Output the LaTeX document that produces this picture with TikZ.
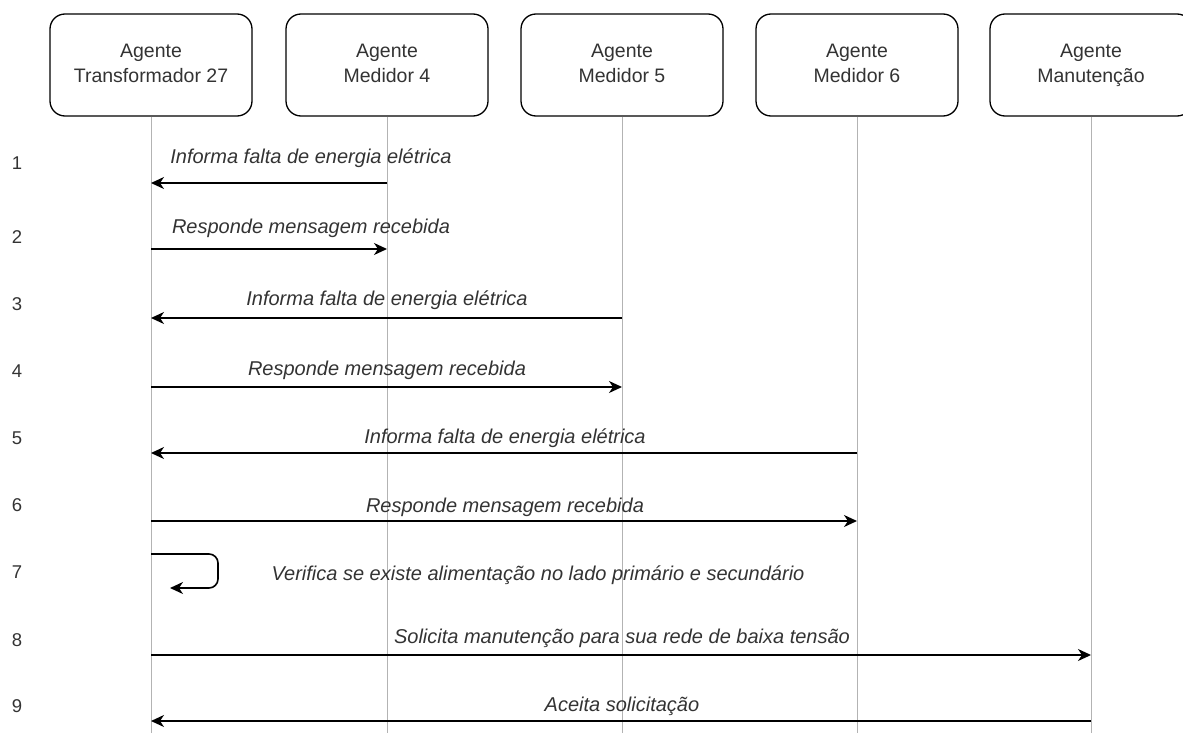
\documentclass[tikz,border=0pt]{standalone}
\usepackage{fontspec}
\setmainfont{Liberation Sans}
\usetikzlibrary{arrows.meta}
\definecolor{txt}{HTML}{333333}
\definecolor{life}{HTML}{B3B3B3}

\begin{document}
\begin{tikzpicture}[x=1pt,y=-1pt,
  agent/.style={draw=black, fill=white, line width=1.3pt, rounded corners=15pt,
    minimum width=202pt, minimum height=102pt, align=center, text=txt,
    font=\fontsize{19.5}{25}\selectfont, inner sep=0pt},
  lifeline/.style={draw=life, line width=1pt},
  msg/.style={draw=black, line width=1.6pt,
    -{Stealth[length=13pt,width=12pt,inset=4pt]}},
  msglabel/.style={anchor=base, text=txt, inner sep=0pt,
    font=\fontsize{20}{24}\selectfont\itshape},
  stepnum/.style={text=txt, inner sep=0pt, font=\fontsize{18.5}{22}\selectfont}
]
\useasboundingbox (0,0) rectangle (1183,733);

% agents
\node[agent] (t)  at (151,65)  {\strut Agente\\\strut Transformador 27};
\node[agent] (m4) at (387,65)  {\strut Agente\\\strut Medidor 4};
\node[agent] (m5) at (622,65)  {\strut Agente\\\strut Medidor 5};
\node[agent] (m6) at (857,65)  {\strut Agente\\\strut Medidor 6};
\node[agent] (ma) at (1091,65) {\strut Agente\\\strut Manutenção};

% lifeline ends
\coordinate (t-end)  at (151,733);
\coordinate (m4-end) at (387,733);
\coordinate (m5-end) at (622,733);
\coordinate (m6-end) at (857,733);
\coordinate (ma-end) at (1091,733);

\draw[lifeline] (t.south)  -- (t-end);
\draw[lifeline] (m4.south) -- (m4-end);
\draw[lifeline] (m5.south) -- (m5-end);
\draw[lifeline] (m6.south) -- (m6-end);
\draw[lifeline] (ma.south) -- (ma-end);

% step numbers
\node[stepnum] (n1) at (17,163) {1};
\node[stepnum] (n2) at (17,237) {2};
\node[stepnum] (n3) at (17,304) {3};
\node[stepnum] (n4) at (17,371) {4};
\node[stepnum] (n5) at (17,438) {5};
\node[stepnum] (n6) at (17,505) {6};
\node[stepnum] (n7) at (17,572) {7};
\node[stepnum] (n8) at (17,640) {8};
\node[stepnum] (n9) at (17,706) {9};

% messages
\draw[msg] (m4 |- 0,183) -- (t |- 0,183);
\draw[msg] (t |- 0,249)  -- (m4 |- 0,249);
\draw[msg] (m5 |- 0,318) -- (t |- 0,318);
\draw[msg] (t |- 0,387)  -- (m5 |- 0,387);
\draw[msg] (m6 |- 0,453) -- (t |- 0,453);
\draw[msg] (t |- 0,521)  -- (m6 |- 0,521);
\coordinate (self-end) at (170,588);
\draw[msg, rounded corners=9pt] (t |- 0,554) -- (218,554) -- (218,588) -- (self-end);
\draw[msg] (t |- 0,655)  -- (ma |- 0,655);
\draw[msg] (ma |- 0,721) -- (t |- 0,721);

% message labels
\node[msglabel] (l1) at (311,163) {Informa falta de energia elétrica};
\node[msglabel] (l2) at (311,233) {Responde mensagem recebida};
\node[msglabel] (l3) at (387,305) {Informa falta de energia elétrica};
\node[msglabel] (l4) at (387,375) {Responde mensagem recebida};
\node[msglabel] (l5) at (505,443) {Informa falta de energia elétrica};
\node[msglabel] (l6) at (505,512) {Responde mensagem recebida};
\node[msglabel] (l7) at (538,580) {Verifica se existe alimentação no lado primário e secundário};
\node[msglabel] (l8) at (622,643) {Solicita manutenção para sua rede de baixa tensão};
\node[msglabel] (l9) at (622,711) {Aceita solicitação};
\end{tikzpicture}
\end{document}
